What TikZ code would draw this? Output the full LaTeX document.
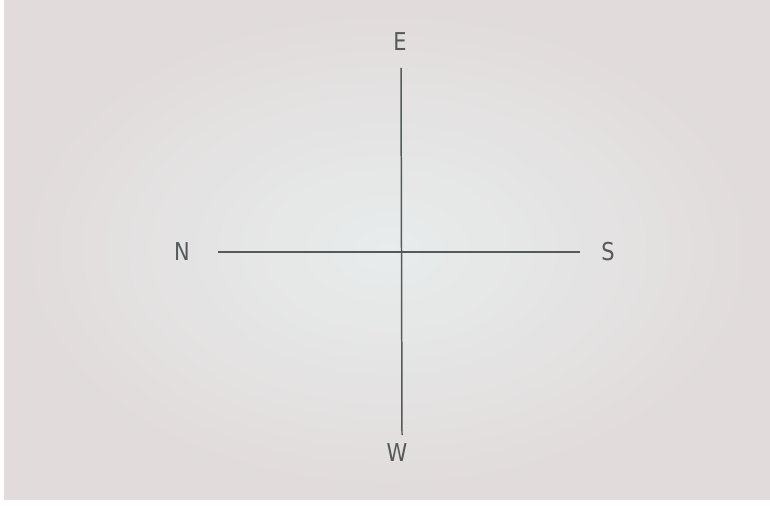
\documentclass[tikz,border=0pt]{standalone}
\usepackage{fontspec}
\setmainfont{DejaVu Sans}
\usetikzlibrary{positioning, calc}
\definecolor{paperedge}{RGB}{225, 219, 219}
\definecolor{papermid}{RGB}{232, 236, 236}
\definecolor{pencil}{RGB}{84, 90, 90}
\tikzset{
  pencilline/.style={draw=pencil, line width=0.85pt},
  dirlabel/.style={text=pencil, font=\fontsize{14}{14}\selectfont\addfontfeature{FakeStretch=0.85}, inner sep=0pt}
}

\begin{document}
\begin{tikzpicture}[x=0.02cm, y=-0.02cm]
        % Paper
        \useasboundingbox (0,0) rectangle (770,506);
        \fill[white] (0,0) rectangle (770,506);
        \shade[inner color=papermid, outer color=paperedge] (4,0) rectangle (770,499);

        % Ends of the two lines
        \coordinate (top) at (401,68);
        \coordinate (bottom) at (402,435);
        \coordinate (left) at (218,252);
        \coordinate (right) at (580,252);

        % Cross
        \draw[pencilline] (top) -- (bottom);
        \draw[pencilline] (left) -- (right);

        % Labels
        \node[dirlabel] (east) at (400,42) {E};
        \node[dirlabel] (west) at (397,453) {W};
        \node[dirlabel] (north) at (182,252) {N};
        \node[dirlabel] (south) at (608,252) {S};
    \end{tikzpicture}
\end{document}
